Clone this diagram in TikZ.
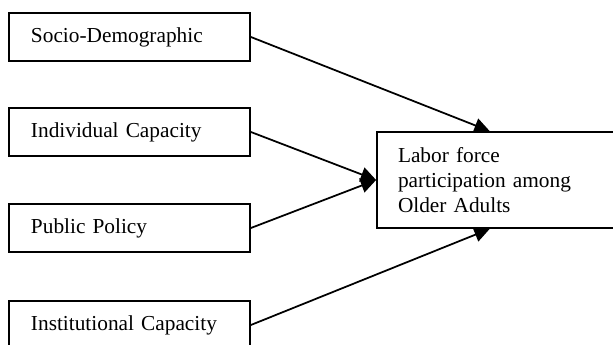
\documentclass[tikz,border=0pt]{standalone}
\usepackage{fontspec}
\setmainfont{Liberation Serif}
\usetikzlibrary{arrows.meta, positioning}

\begin{document}
\begin{tikzpicture}[
    x=0.03cm, y=-0.03cm,
    font=\fontsize{18.2}{21.2}\selectfont,
    >={Triangle[length=4.6mm,width=4.4mm]},
    factor/.style={draw, line width=1.5pt, align=left, text width=5.91cm,
      inner xsep=0.66cm, minimum height=1.44cm},
    outcome/.style={draw, line width=1.5pt, align=left, text width=6.18cm,
      inner xsep=0.63cm, minimum height=2.88cm},
    link/.style={->, line width=1.5pt},
  ]
  \useasboundingbox (0,0) rectangle (613,345);

  %% ---- determinants ---------------------------------------------------
  \node[factor] (socio) at (129.5,37)  {Socio-Demographic};
  \node[factor] (indiv) at (129.5,132) {Individual Capacity};
  \node[factor] (policy) at (129.5,228) {Public Policy};
  \node[factor] (instit) at (129.5,325) {Institutional Capacity};

  %% ---- outcome --------------------------------------------------------
  \node[outcome] (labor) at (501,180)
    {Labor force\\participation among\\Older Adults};

  \draw[link] (socio.east)  -- (labor.103);
  \draw[link] (indiv.east)  -- (labor.west);
  \draw[link] (policy.east) -- (labor.west);
  \draw[link] (instit.east) -- (labor.257);
\end{tikzpicture}
\end{document}
